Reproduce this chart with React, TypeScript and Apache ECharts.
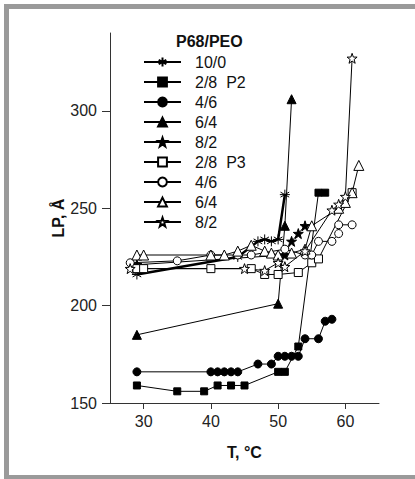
import React, { useEffect, useRef } from 'react';
import * as echarts from 'echarts';

const xTicks = [30, 40, 50, 60];
const yTicks = [150, 200, 250, 300];
const seriesNames = ['10/0', '2/8  P2', '4/6', '6/4', '8/2', '2/8  P3', '4/6 ', '6/4 ', '8/2 '];

const s10_0 = [[29, 216], [44, 225], [47, 233], [48, 234], [49, 233], [50, 234], [51, 257]];
const p2_28 = [[29, 159], [35, 156], [39, 156], [41, 159], [43, 159], [45, 159], [50, 166], [51, 166], [53, 179], [56, 258], [57, 258]];
const p2_46 = [[29, 166], [40, 166], [41, 166], [42, 166], [43, 166], [44, 166], [47, 170], [49, 170], [50, 174], [51, 174], [52, 174], [53, 174], [54, 183], [56, 183], [57, 192], [58, 193]];
const p2_64 = [[29, 185], [50, 201], [51, 241], [52, 306]];
const p2_82 = [[29, 221], [51, 226], [52, 233], [53, 237], [54, 241]];
const p3_28 = [[29, 219], [30, 219], [40, 219], [46, 219], [48, 216], [50, 216], [53, 217], [55, 222], [56, 224], [61, 258]];
const p3_46 = [[28, 222], [35, 223], [40, 226], [44, 226], [46, 226], [51, 229], [54, 226], [55, 226], [56, 233], [58, 233], [59, 237], [59, 241.5], [61, 241.5]];
const p3_64 = [[29, 226], [30, 226], [40, 226], [42, 226], [44, 228], [46, 231], [48, 228], [49, 227], [50, 226], [52, 227], [54, 229], [55, 241], [59, 250], [60, 253], [61, 258], [62, 272]];
const p3_82 = [[28, 219], [45, 219], [48, 218], [50, 222], [51, 220], [54, 228], [58, 249], [59, 252], [60, 256], [61, 327]];

const STAR = 'path://M0,-10L2.35,-3.24L9.51,-3.09L3.8,1.24L5.88,8.09L0,4L-5.88,8.09L-3.8,1.24L-9.51,-3.09L-2.35,-3.24Z';
const ASTER = 'path://M0,-10L0,10M-8.66,-5L8.66,5M-8.66,5L8.66,-5M-10,0L10,0';
const FONT = '"Liberation Sans", Arial, sans-serif';

export default function App() {
  const ref = useRef<HTMLDivElement>(null);
  useEffect(() => {
    const chart = echarts.init(ref.current!, undefined, { renderer: 'svg' });
    const filled = { color: '#000', borderColor: '#000', borderWidth: 1 };
    const open = { color: '#fff', borderColor: '#000', borderWidth: 1 };
    const mk = (name: string, data: number[][], symbol: string, size: number, item: any, lw = 1) => ({
      name,
      type: 'line',
      data,
      symbol,
      symbolSize: size,
      itemStyle: item,
      lineStyle: { color: '#000', width: lw },
      z: 2,
    });
    const series = [
      mk(seriesNames[0], s10_0, ASTER, 10, { color: 'transparent', borderColor: '#000', borderWidth: 1 }, 2.5),
      mk(seriesNames[1], p2_28, 'rect', 7, filled),
      mk(seriesNames[2], p2_46, 'circle', 8, filled),
      mk(seriesNames[3], p2_64, 'triangle', 9, filled),
      mk(seriesNames[4], p2_82, STAR, 10, filled),
      mk(seriesNames[5], p3_28, 'rect', 8, open),
      mk(seriesNames[6], p3_46, 'circle', 8, open),
      mk(seriesNames[7], p3_64, 'triangle', 10, open),
      mk(seriesNames[8], p3_82, STAR, 10, open),
    ];
    chart.setOption({
      animation: false,
      backgroundColor: '#fff',
      title: {
        text: 'P68/PEO',
        left: 176,
        top: 33,
        padding: 0,
        textStyle: { fontFamily: FONT, fontSize: 16, fontWeight: 'bold', color: '#111', lineHeight: 16 },
      },
      legend: {
        orient: 'vertical',
        left: 143,
        top: 54,
        padding: 0,
        itemWidth: 37,
        itemHeight: 11,
        itemGap: 4,
        data: seriesNames,
        textStyle: { fontFamily: FONT, fontSize: 16, color: '#111', lineHeight: 16, padding: [0, 0, 0, 9] },
        formatter: (n: string) => n.trim(),
      },
      grid: { left: 110, right: 36, top: 33, bottom: 76 },
      xAxis: {
        type: 'value',
        min: 25,
        max: 65,
        name: 'T, °C',
        nameLocation: 'middle',
        nameGap: 41,
        nameMoveOverlap: false,
        nameTextStyle: { fontFamily: FONT, fontSize: 16, fontWeight: 'bold', color: '#111' },
        axisLine: { lineStyle: { color: '#333', width: 1 } },
        axisTick: { inside: false, length: 6, customValues: xTicks, lineStyle: { color: '#333' } },
        axisLabel: { customValues: xTicks, margin: 10, fontFamily: FONT, fontSize: 16, color: '#222' },
        splitLine: { show: false },
      },
      yAxis: {
        type: 'value',
        min: 150,
        max: 340,
        name: 'LP, Å',
        nameLocation: 'middle',
        nameGap: 44,
        nameMoveOverlap: false,
        nameTextStyle: { fontFamily: FONT, fontSize: 16, fontWeight: 'bold', color: '#111' },
        axisLine: { show: true, lineStyle: { color: '#333', width: 1 } },
        axisTick: { show: true, inside: false, length: 8, customValues: yTicks, lineStyle: { color: '#333' } },
        axisLabel: { customValues: yTicks, margin: 13, fontFamily: FONT, fontSize: 16, color: '#222' },
        splitLine: { show: false },
      },
      graphic: [
        { type: 'rect', shape: { x: 4, y: 4, width: 5, height: 475 }, style: { fill: '#9a9a9a' } },
        { type: 'rect', shape: { x: 4, y: 4, width: 411, height: 5 }, style: { fill: '#9a9a9a' } },
        { type: 'rect', shape: { x: 4, y: 475, width: 411, height: 4 }, style: { fill: '#9a9a9a' } },
      ],
      series,
    });
    return () => chart.dispose();
  }, []);
  return <div ref={ref} style={{ position: 'fixed', left: 0, top: 0, width: 415, height: 479 }} />;
}
